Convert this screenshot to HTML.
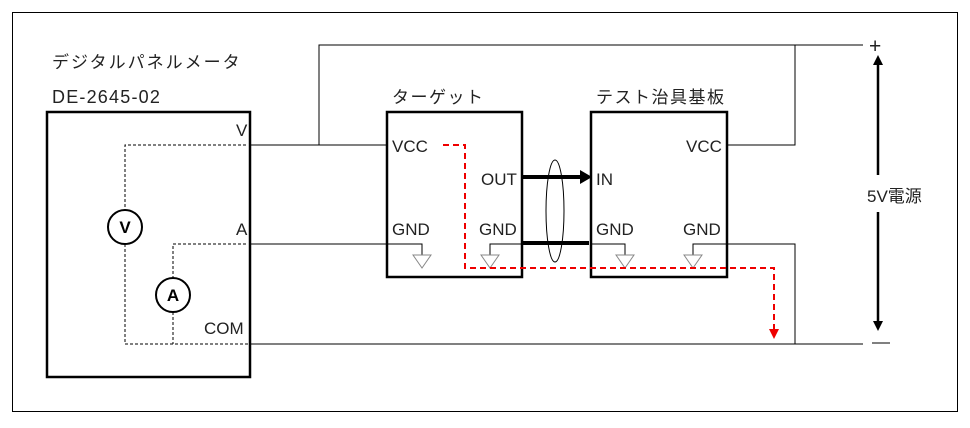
<!DOCTYPE html>
<html><head><meta charset="utf-8"><style>body{margin:0;background:#fff}svg{display:block}text{font-family:"Liberation Sans","Noto Sans CJK JP",sans-serif;font-size:17px;fill:#222}.t{letter-spacing:1.5px}</style></head><body>
<svg width="970" height="428" viewBox="0 0 970 428">
<rect x="12.5" y="12.5" width="945" height="399" fill="none" stroke="#000" stroke-width="1"/>
<text x="52" y="68" class="t" style="letter-spacing:2px">デジタルパネルメータ</text>
<text x="52" y="103" style="font-size:18px;letter-spacing:1.2px">DE-2645-02</text>
<text x="392" y="103" class="t">ターゲット</text>
<text x="596" y="103" class="t">テスト治具基板</text>
<rect x="47" y="112" width="203" height="265" fill="none" stroke="#000" stroke-width="2.5"/>
<rect x="387" y="112" width="135" height="165" fill="none" stroke="#000" stroke-width="2.5"/>
<rect x="591" y="112" width="136" height="165" fill="none" stroke="#000" stroke-width="2.5"/>
<g fill="none" stroke="#000" stroke-width="1">
<path d="M250 145H387M319 145V45H863M727 145H795V45M250 244H422V255M250 344H863M693 255V244H795V344M490 255V244H522M591 244H625V255"/>
<ellipse cx="555" cy="211" rx="9" ry="51"/>
</g>
<g fill="none" stroke="#888" stroke-width="1"><path d="M413 255H431L422 268ZM481 255H499L490 268ZM616 255H634L625 268ZM684 255H702L693 268Z"/></g>
<path d="M522 243H589" stroke="#000" stroke-width="4"/>
<path d="M522 177H580" stroke="#000" stroke-width="4"/>
<path d="M580 170L592 177L580 184Z" fill="#000"/>
<g fill="none" stroke="#000" stroke-width="1" stroke-dasharray="3,2">
<path d="M246 145H125V210M125 244V344H248M246 244H173V278M173 312V344"/>
</g>
<circle cx="125" cy="227" r="17" fill="#fff" stroke="#000" stroke-width="2"/>
<circle cx="173" cy="295" r="17" fill="#fff" stroke="#000" stroke-width="2"/>
<text x="125" y="233" text-anchor="middle" style="font-weight:bold;font-size:17px;fill:#000">V</text>
<text x="173" y="301" text-anchor="middle" style="font-weight:bold;font-size:17px;fill:#000">A</text>
<path d="M443 145H465V268H774V330" fill="none" stroke="#e00" stroke-width="2" stroke-dasharray="6,4"/>
<path d="M769 329H779L774 339Z" fill="#e00"/>
<text x="236" y="136">V</text>
<text x="236" y="235">A</text>
<text x="204" y="334">COM</text>
<text x="392" y="152">VCC</text>
<text x="481" y="185">OUT</text>
<text x="392" y="235">GND</text>
<text x="479" y="235">GND</text>
<text x="596" y="185">IN</text>
<text x="686" y="152">VCC</text>
<text x="596" y="235">GND</text>
<text x="683" y="235">GND</text>
<text x="869" y="53" style="font-size:21px">+</text>
<path d="M872 343H890" stroke="#000" stroke-width="1"/>
<path d="M878 64V175M878 212V322" stroke="#000" stroke-width="2.5"/>
<path d="M873 65L878 55L883 65ZM873 321L878 331L883 321Z" fill="#000"/>
<text x="867" y="202">5V電源</text>
</svg>
</body></html>
